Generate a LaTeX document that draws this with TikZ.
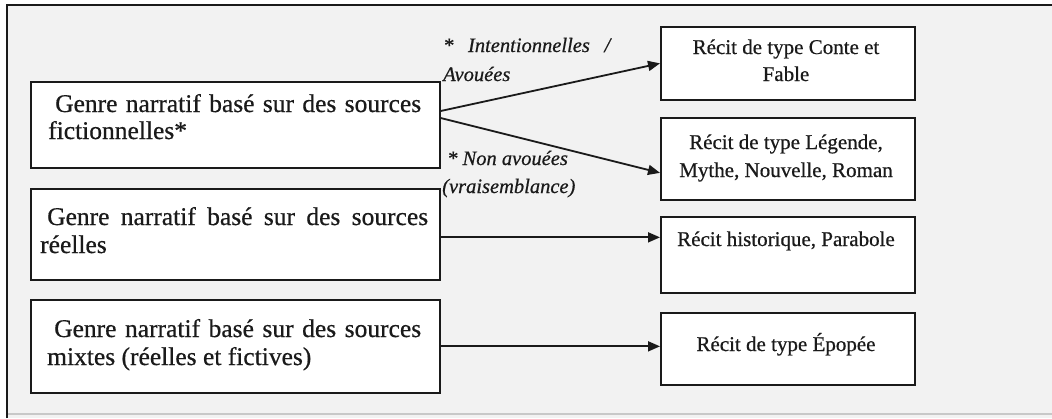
\documentclass[tikz,border=0pt]{standalone}
\usepackage{fontspec}
\setmainfont{Liberation Serif}[FakeBold=0.6]
\usetikzlibrary{arrows.meta}
\definecolor{bggrey}{HTML}{F2F2F2}
\definecolor{lightline}{HTML}{C8C8C8}
\definecolor{ink}{HTML}{1A1A1A}
\begin{document}
\begin{tikzpicture}[x=1pt,y=-1pt,
  box/.style={draw=ink, line width=1.7pt, fill=white, rectangle, inner sep=0pt, anchor=north west},
  txt/.style={inner sep=0pt, anchor=base west, text=ink, font=\fontsize{25.5}{28}\selectfont},
  ctxt/.style={inner sep=0pt, anchor=base, text=ink, font=\fontsize{21}{24}\selectfont},
  itxt/.style={inner sep=0pt, anchor=base west, text=ink, font=\fontsize{20.5}{24}\selectfont\itshape},
  arr/.style={draw=ink, line width=1.8pt, -{Triangle[length=12pt,width=10pt]}}]
\useasboundingbox (0,0) rectangle (1052,418);
\fill[white] (0,0) rectangle (1052,418);
\fill[bggrey] (7,5) rectangle (1052,418);
\draw[lightline, line width=1.2pt] (7,414) -- (1052,414);
\draw[ink, line width=2.2pt] (7,418) -- (7,5) -- (1052,5);
% left boxes
\node[box, minimum width=409pt, minimum height=86pt] (L1) at (30,81) {};
\node[box, minimum width=409pt, minimum height=91pt] (L2) at (30,188) {};
\node[box, minimum width=409pt, minimum height=93pt] (L3) at (30,299) {};
% right boxes
\node[box, minimum width=254pt, minimum height=73pt] (R1) at (660,26) {};
\node[box, minimum width=254pt, minimum height=82pt] (R2) at (660,117) {};
\node[box, minimum width=254pt, minimum height=76pt] (R3) at (660,216) {};
\node[box, minimum width=254pt, minimum height=72pt] (R4) at (660,312) {};
% left texts
\node[txt] (t1a) at (55,112) {\makebox[366pt][s]{Genre narratif basé sur des sources}};
\node[txt] (t1b) at (48,139) {fictionnelles*};
\node[txt] (t2a) at (47,225) {\makebox[381pt][s]{Genre narratif basé sur des sources}};
\node[txt] (t2b) at (40,253) {réelles};
\node[txt] (t3a) at (54,337) {\makebox[367pt][s]{Genre narratif basé sur des sources}};
\node[txt] (t3b) at (47,365) {mixtes (réelles et fictives)};
% right texts
\node[ctxt] (r1a) at (786,54) {Récit de type Conte et};
\node[ctxt] (r1b) at (786,81) {Fable};
\node[ctxt] (r2a) at (786,149) {Récit de type Légende,};
\node[ctxt] (r2b) at (786,177) {Mythe, Nouvelle, Roman};
\node[ctxt] (r3a) at (786,246) {Récit historique, Parabole};
\node[ctxt] (r4a) at (786,351) {Récit de type Épopée};
% labels
\node[itxt] (la1) at (443,52) {\makebox[167pt][s]{* Intentionnelles /}};
\node[itxt] (la2) at (443,81) {Avouées};
\node[itxt] (lb1) at (447,165) {* Non avouées};
\node[itxt] (lb2) at (442,193) {(vraisemblance)};
% arrows
\coordinate (a1) at ([yshift=-30pt]L1.north east);
\coordinate (a2) at ([yshift=-37pt]L1.north east);
\coordinate (e2) at ([yshift=-14pt]R2.west);
\coordinate (a3) at ([yshift=-3pt]L2.east);
\coordinate (e3) at (a3 -| R3.west);
\coordinate (e4) at (L3.east -| R4.west);
\draw[arr] (a1) -- (R1.west);
\draw[arr] (a2) -- (e2);
\draw[arr] (a3) -- (e3);
\draw[arr] (L3.east) -- (e4);
\end{tikzpicture}
\end{document}
